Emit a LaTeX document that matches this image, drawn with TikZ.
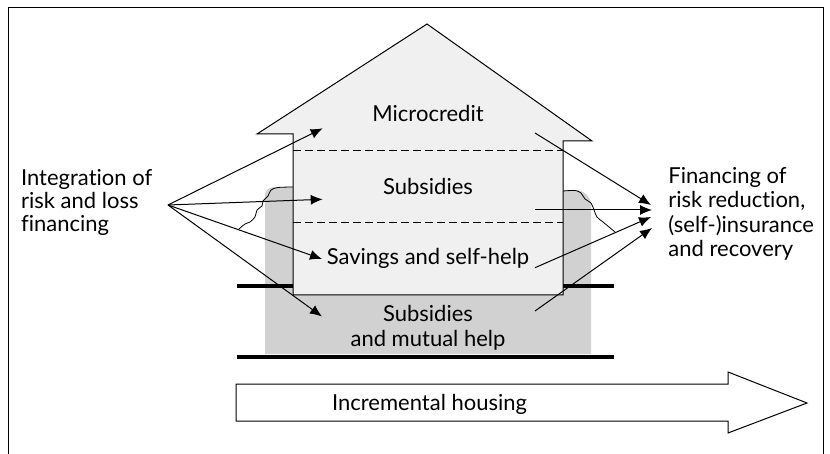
\documentclass[tikz,border=0pt]{standalone}
\usepackage{fontspec}
\setmainfont{Lato}[Ligatures=NoCommon]
\usetikzlibrary{arrows.meta}
\tikzstyle{arr}=[-{Latex[length=6pt,width=5pt]},line width=0.5pt]
\tikzstyle{txt}=[inner sep=0pt,font=\fontsize{11}{11.5}\selectfont]
\tikzstyle{heavy}=[line width=2pt]

\begin{document}
\begin{tikzpicture}[x=0.5pt,y=-0.5pt]
\useasboundingbox (0,0) rectangle (830,454);

% frame, open at the bottom
\draw[line width=0.5pt] (8,454) -- (8,8) -- (823,8) -- (823,454);

% foundation and cracks
\fill[black!18] (265,354) -- (265,197) .. controls (265,190) and (268,187) .. (276,187) -- (300,187) -- (560,190) -- (575,190) .. controls (583,190) and (591,196) .. (591,205) -- (591,354) -- cycle;
\draw[line width=0.4pt] plot[smooth] coordinates {(293,187) (278,187.5) (271,190) (268,196) (263,201) (262,206) (257,210) (255,217) (250,222) (245,224) (239,229)};
\draw[line width=0.4pt] plot[smooth] coordinates {(563,191) (575,190.5) (581,193) (585,199) (591,203) (594,210) (597,217) (603,222) (609,227) (615,232)};
\draw[heavy] (237,286) -- (293,286);
\draw[heavy] (563,286) -- (614,286);
\draw[heavy] (237,357) -- (614,357);

% house
\draw[fill=black!6,line width=0.5pt] (293,295) -- (293,134) -- (257,134) -- (427,24) -- (592,141) -- (563,141) -- (563,295) -- cycle;
\draw[line width=0.5pt,dash pattern=on 4pt off 2pt] (293,150.7) -- (563,150.7);
\draw[line width=0.5pt,dash pattern=on 4pt off 2pt] (293,222.5) -- (563,222.5);

\node[txt,anchor=base] (micro) at (428,121.7) {Microcredit};
\node[txt,anchor=base] (subs) at (428,194.3) {Subsidies};
\node[txt,anchor=base] (save) at (428,265) {Savings and self-help};
\node[txt,anchor=base,align=center,font=\fontsize{11}{12.5}\selectfont] (mutual) at (428,346.7) {Subsidies\\and mutual help};

% side texts
\node[txt,anchor=base west,align=left] (integ) at (20.7,232) {Integration of\\risk and loss\\financing};
\node[txt,anchor=base west,align=left,font=\fontsize{11}{12.25}\selectfont] (fin) at (668,256.7) {Financing of\\risk reduction,\\(self-)insurance\\and recovery};

% incremental housing arrow
\draw[line width=0.5pt] (236,384) -- (728,384) -- (728,372) -- (807,403) -- (728,433) -- (728,421) -- (236,421) -- cycle;
\node[txt,anchor=base west] (inc) at (331.7,410.7) {Incremental housing};

% arrow ends
\coordinate (intL) at (168,205);
\coordinate (inM) at (322.7,128.3);
\coordinate (inS) at (322.7,199.3);
\coordinate (inV) at (322,259);
\coordinate (inU) at (322,316.5);
\coordinate (outM) at (535,133);
\coordinate (outS) at (535,210);
\coordinate (outV) at (535,267.7);
\coordinate (outU) at (535,311);
\coordinate (finM) at (651,205);
\coordinate (finS) at (652,210);
\coordinate (finV) at (651,217);
\coordinate (finU) at (652,228);

\foreach \t in {inM,inS,inV,inU}
  \draw[arr] (intL) -- (\t);
\foreach \s/\t in {outM/finM,outS/finS,outV/finV,outU/finU}
  \draw[arr] (\s) -- (\t);
\end{tikzpicture}
\end{document}
